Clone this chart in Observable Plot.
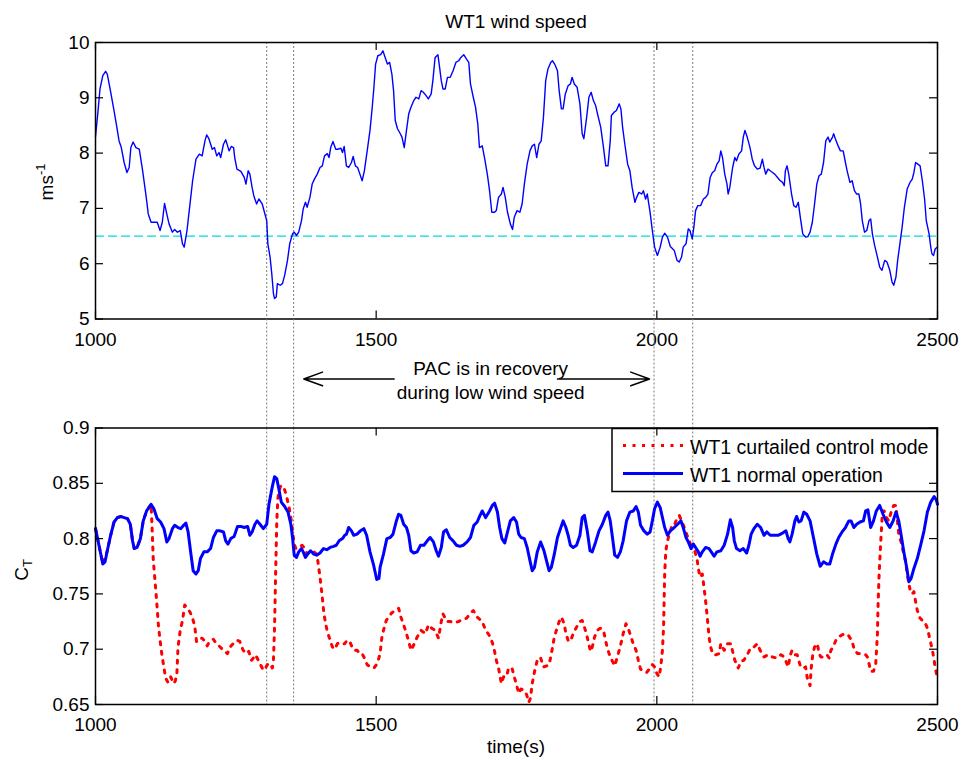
<!DOCTYPE html>
<html>
<head>
<meta charset="utf-8">
<script src="https://cdn.jsdelivr.net/npm/d3@7"></script>
<script src="https://cdn.jsdelivr.net/npm/@observablehq/plot@0.6"></script>
<style>
  body { margin: 0; background: #fff; }
  #fig { position: relative; width: 962px; height: 760px; overflow: hidden;
         font-family: "Liberation Sans", Arial, Helvetica, sans-serif; color: #000; }
  #fig > svg { position: absolute; left: 0; top: 0; }
  .lbl { position: absolute; font-size: 19px; white-space: nowrap; line-height: 1; }
  .lbl sup, .lbl sub { font-size: 13px; }
</style>
</head>
<body>
<div id="fig"></div>
<script>
// ---------------- data ----------------
const timeTicks = [1000, 1500, 2000, 2500];
const speedTicks = [5, 6, 7, 8, 9, 10];
const ctTicks = [0.65, 0.7, 0.75, 0.8, 0.85, 0.9];
const windThreshold = 6.5;                       // rated low-wind limit (m/s)
const recoveryBounds = [1305, 1353, 1995, 2064]; // PAC recovery window edges (s)
const seriesNames = ["WT1 curtailed control mode", "WT1 normal operation"];

// WT1 wind speed (s, m/s)
const windTime = [
  1000,1004,1008,1013,1018,1021,1026,1033,1038,1042,1046,1051,1056,1060,1063,1067,1072,1078,1084,1090,
  1094,1099,1104,1110,1115,1119,1123,1127,1131,1137,1141,1146,1151,1155,1158,1163,1167,1173,1179,1185,
  1190,1195,1198,1202,1208,1212,1216,1220,1223,1228,1232,1238,1242,1246,1248,1252,1259,1265,1268,1272,
  1275,1279,1282,1287,1291,1297,1301,1305,1307,1311,1314,1317,1319,1322,1324,1329,1333,1337,1342,1346,
  1351,1354,1358,1362,1367,1370,1374,1377,1382,1386,1390,1395,1400,1404,1408,1413,1416,1419,1423,1428,
  1432,1437,1440,1443,1447,1451,1456,1459,1463,1467,1471,1475,1479,1484,1489,1493,1496,1499,1503,1508,
  1512,1516,1520,1524,1528,1531,1534,1538,1543,1546,1550,1554,1558,1562,1567,1571,1576,1580,1584,1589,
  1593,1598,1601,1605,1610,1613,1616,1619,1623,1627,1632,1637,1642,1647,1651,1656,1661,1665,1668,1673,
  1677,1681,1684,1689,1693,1698,1702,1706,1711,1714,1718,1723,1726,1730,1734,1739,1743,1746,1751,1756,
  1760,1764,1769,1774,1778,1782,1786,1790,1794,1798,1802,1806,1811,1814,1818,1823,1826,1830,1833,1837,
  1842,1846,1849,1853,1858,1863,1867,1870,1875,1879,1883,1887,1891,1895,1900,1905,1909,1913,1917,1919,
  1924,1928,1933,1936,1939,1943,1948,1952,1956,1961,1964,1968,1973,1976,1980,1983,1988,1992,1996,2001,
  2006,2010,2014,2019,2024,
  2028,2031,2036,2040,2044,2047,2052,2056,2059,2063,2066,2069,2073,2078,2083,2087,2091,2095,2099,2103,
  2107,2111,2114,2117,2121,2125,2127,2130,2135,2139,2142,2146,2151,2154,2157,2161,2166,2170,2174,2179,
  2184,2188,2191,2194,2198,2202,2206,2210,2215,2219,2224,2227,2229,2232,2235,2240,2244,2248,2252,2256,
  2260,2265,2269,2273,2277,2281,2285,2289,2293,2297,2301,2305,2308,2313,2315,2318,2323,2327,2332,2336,
  2339,2344,2348,2352,2356,2360,2363,2366,2370,2374,2378,2381,2384,2388,2393,2397,2401,2406,2410,2415,
  2419,2422,2426,2429,2433,2437,2441,2446,2451,2455,2458,2461,2465,2469,2473,2477,2480,2485,2488,2490,
  2493,2496,2500
];
const windSpeed = [
  8.30,8.71,9.16,9.40,9.48,9.43,9.16,8.77,8.47,8.22,8.10,7.83,7.65,7.74,8.10,8.20,8.10,8.07,7.68,7.23,
  6.90,6.75,6.75,6.75,6.60,6.75,7.09,6.90,6.72,6.57,6.62,6.57,6.60,6.36,6.30,6.60,6.96,7.50,7.89,7.98,
  7.95,8.22,8.33,8.26,8.07,8.10,7.95,8.01,7.92,8.16,8.24,8.04,8.12,8.10,7.92,7.71,7.67,7.56,7.44,7.68,
  7.62,7.38,7.23,7.08,7.17,7.08,6.93,6.78,6.36,6.12,5.82,5.46,5.37,5.40,5.64,5.61,5.64,5.79,6.06,6.36,
  6.54,6.57,6.51,6.57,6.78,6.99,7.11,7.02,7.20,7.44,7.53,7.62,7.74,7.77,7.95,7.99,7.92,8.10,8.21,8.07,
  8.07,8.09,8.01,8.12,7.77,7.74,7.83,7.94,7.77,7.74,7.62,7.50,7.68,8.04,8.41,8.83,9.19,9.61,9.76,9.78,
  9.85,9.73,9.61,9.64,9.43,9.13,8.59,8.44,8.35,8.29,8.10,8.41,8.71,8.83,8.95,9.01,8.98,9.13,9.10,9.04,
  8.98,9.07,9.31,9.73,9.78,9.55,9.31,9.16,9.16,9.37,9.37,9.49,9.64,9.67,9.73,9.78,9.70,9.64,9.25,9.01,
  8.83,8.53,8.10,8.13,7.92,7.62,7.32,6.93,6.93,6.96,7.20,7.26,7.38,7.20,6.93,6.72,6.62,6.84,6.96,6.93,
  7.08,7.44,7.80,8.04,8.13,8.16,7.92,8.16,8.22,8.65,9.31,9.52,9.64,9.67,9.61,9.49,9.13,8.80,8.80,9.07,
  9.22,9.25,9.37,9.25,9.19,8.89,8.35,8.26,8.65,9.01,9.10,8.95,8.86,8.68,8.47,8.10,7.77,7.77,8.22,8.68,
  8.74,8.77,8.89,8.80,8.47,8.16,7.80,7.68,7.38,7.11,7.20,7.29,7.26,7.32,7.17,7.26,6.93,6.60,6.30,6.15,
  6.30,6.48,6.55,6.48,6.31,
  6.27,6.24,6.06,6.03,6.12,6.30,6.36,6.63,6.60,6.45,6.66,6.96,7.05,7.05,7.17,7.20,7.26,7.56,7.65,7.68,
  7.80,7.86,8.04,7.92,7.62,7.44,7.26,7.38,7.74,7.92,7.86,7.98,8.04,8.29,8.41,8.29,8.10,7.89,7.77,7.71,
  7.73,7.89,7.74,7.62,7.71,7.68,7.65,7.62,7.56,7.51,7.47,7.41,7.68,7.77,7.62,7.26,7.05,7.02,7.11,6.81,
  6.54,6.48,6.49,6.57,6.75,7.08,7.44,7.59,7.62,7.83,8.22,8.29,8.20,8.29,8.35,8.26,8.13,8.04,8.04,7.83,
  7.68,7.47,7.50,7.32,7.26,7.26,7.08,6.78,6.57,6.60,6.78,6.81,6.54,6.33,6.12,5.94,5.88,6.06,6.03,5.88,
  5.67,5.61,5.76,6.06,6.36,6.66,7.02,7.35,7.47,7.53,7.65,7.83,7.80,7.77,7.50,7.17,6.78,6.54,6.30,6.18,
  6.15,6.27,6.30
];

// WT1 thrust coefficient, normal operation
const normalTime = [
  1000,1007,1013,1017,1021,1027,1033,1039,1045,1051,1057,1062,1066,1069,1074,1080,1085,1091,1099,1104,
  1110,1116,1122,1127,1131,1137,1141,1147,1152,1157,1161,1165,1170,1174,1179,1183,1187,1193,1199,1205,
  1210,1216,1222,1228,1232,1236,1241,1247,1253,1259,1265,1271,1275,1279,1284,1288,1293,1299,1305,1309,
  1315,1319,1323,1327,1331,1337,1343,1348,1351,1354,1358,1362,1367,1370,1374,1378,1383,1389,1394,1400,
  1406,1412,1418,1424,1429,1434,1440,1444,1447,1451,1456,1460,1466,1472,1478,1483,1489,1495,1501,1505,
  1507,1513,1519,1525,1530,1536,1540,1544,1549,1554,1558,1562,1567,1573,1579,1585,1591,1596,1602,1607,
  1611,1616,1620,1625,1631,1637,1643,1649,1655,1662,1668,1674,1680,1685,1689,1695,1701,1707,1711,1716,
  1720,1724,1729,1733,1739,1745,1750,1754,1758,1764,1769,1774,1778,1782,1787,1793,1799,1804,1808,1812,
  1817,1823,1829,1833,1838,1842,1846,1851,1857,1863,1867,1871,1876,1881,1885,1891,1897,1903,1909,1913,
  1917,1921,1925,1930,1935,1940,1946,1952,1958,1963,1967,1971,1977,1983,1988,1992,1996,2001,2006,2010,
  2014,2019,2024,
  2031,2037,2043,2047,2052,2056,2061,2065,2069,2074,2077,2081,2087,2093,2097,2102,2107,2114,2120,2126,
  2131,2135,2138,2142,2148,2154,2160,2164,2168,2173,2179,2185,2191,2196,2202,2209,2216,2224,2230,2234,
  2237,2241,2246,2249,2253,2257,2262,2267,2273,2279,2285,2291,2297,2303,2308,2313,2319,2324,2330,2336,
  2342,2346,2351,2356,2362,2368,2372,2376,2381,2386,2391,2397,2403,2409,2415,2421,2426,2431,2435,2440,
  2445,2449,2453,2458,2464,2470,2476,2482,2488,2494,2498,2500
];
const normalCt = [
  0.809,0.792,0.777,0.779,0.789,0.803,0.815,0.819,0.820,0.819,0.818,0.813,0.798,0.791,0.792,0.800,0.816,0.825,0.831,0.827,
  0.818,0.815,0.809,0.797,0.800,0.809,0.812,0.810,0.809,0.812,0.814,0.806,0.786,0.771,0.768,0.771,0.782,0.788,0.788,0.791,
  0.801,0.807,0.807,0.806,0.798,0.795,0.800,0.802,0.811,0.811,0.810,0.811,0.803,0.806,0.813,0.816,0.813,0.809,0.813,0.831,
  0.847,0.856,0.854,0.844,0.833,0.829,0.824,0.813,0.801,0.785,0.783,0.788,0.791,0.788,0.783,0.786,0.789,0.786,0.785,0.787,
  0.791,0.790,0.792,0.793,0.794,0.798,0.800,0.803,0.804,0.810,0.807,0.803,0.804,0.807,0.809,0.803,0.788,0.777,0.763,0.764,
  0.774,0.786,0.800,0.801,0.804,0.816,0.822,0.821,0.813,0.810,0.803,0.789,0.787,0.788,0.794,0.794,0.798,0.801,0.797,0.789,
  0.784,0.792,0.806,0.808,0.801,0.798,0.794,0.793,0.794,0.797,0.801,0.812,0.815,0.821,0.825,0.819,0.824,0.830,0.832,0.824,
  0.810,0.800,0.796,0.804,0.816,0.819,0.815,0.804,0.801,0.800,0.792,0.780,0.771,0.774,0.788,0.797,0.789,0.779,0.771,0.774,
  0.785,0.801,0.810,0.816,0.810,0.803,0.794,0.792,0.794,0.803,0.819,0.821,0.807,0.789,0.788,0.797,0.807,0.813,0.821,0.824,
  0.816,0.801,0.785,0.783,0.788,0.798,0.816,0.824,0.825,0.829,0.824,0.812,0.807,0.804,0.806,0.816,0.827,0.833,0.828,0.819,
  0.810,0.803,0.807,
  0.810,0.813,0.816,0.810,0.801,0.797,0.791,0.795,0.792,0.788,0.784,0.788,0.792,0.791,0.788,0.784,0.788,0.789,0.794,0.804,
  0.817,0.810,0.798,0.791,0.789,0.791,0.787,0.794,0.804,0.809,0.813,0.810,0.803,0.806,0.803,0.803,0.803,0.805,0.807,0.800,
  0.797,0.804,0.816,0.820,0.815,0.816,0.824,0.822,0.816,0.801,0.786,0.775,0.779,0.777,0.777,0.786,0.795,0.801,0.806,0.810,
  0.816,0.816,0.810,0.813,0.815,0.816,0.825,0.826,0.810,0.816,0.825,0.830,0.822,0.815,0.810,0.816,0.824,0.816,0.804,0.788,
  0.774,0.761,0.764,0.773,0.782,0.794,0.807,0.824,0.833,0.838,0.835,0.831
];

// WT1 thrust coefficient, curtailed control mode
const curtailedTime = [
  1000,1007,1013,1021,1027,1033,1039,1045,1051,1057,1062,1066,1069,1074,1080,1085,1091,1099,
  1101,1103,1106,1109,1112,1115,1118,1122,1125,1129,1134,1139,1142,1145,1147,1151,1155,1159,1163,1168,
  1173,1177,1180,1185,1190,1195,1199,1202,1210,1214,1222,1228,1235,1240,1247,1253,1257,1263,1269,1273,
  1278,1281,1285,1288,1293,1297,1301,1306,1311,1315,1317,1319,1321,1323,1325,1329,1333,1337,1340,1345,
  1348,1351,1354,1357,1362,1368,1373,1377,1383,1389,1394,1396,1400,1404,1407,1410,1413,1418,1422,1426,
  1431,1435,1440,1444,1448,1453,1457,1461,1466,1471,1475,1479,1484,1490,1496,1502,
  1507,1510,1513,1518,1522,1528,1534,1540,1544,1549,1554,1558,1562,1567,1573,1580,1588,1593,1599,1605,
  1611,1616,1619,1626,1632,1639,1647,1653,1661,1667,1673,1680,1689,1695,1701,1707,1711,1714,1718,1723,
  1727,1732,1736,1742,1746,1750,1754,1758,1763,1768,1772,1775,1778,1781,1784,1788,1793,1798,1804,1808,
  1811,1814,1817,1821,1826,1830,1835,1838,1842,1846,1851,1857,1863,1867,1871,1875,1879,1882,1885,1889,
  1894,1899,1905,1909,1913,1917,1921,1925,1929,1933,1937,1940,1945,1949,1954,1958,1963,1967,1971,1976,
  1982,1988,1992,1996,2000,2004,2007,2010,2012,2013,2014,2016,2019,2024,
  2026,2030,2034,2040,2044,2049,2053,2058,2062,2065,2072,2075,2078,2081,2084,2087,2090,2093,2096,2099,
  2105,2111,2114,2120,2126,2132,2135,2139,2145,2150,2155,2161,2167,2173,2179,2184,2191,2198,2206,2214,
  2221,2227,2230,2234,2238,2241,2246,2250,2256,2262,2265,2268,2273,2275,2278,2281,2286,2289,2292,2297,
  2303,2307,2310,2314,2319,2324,2330,2336,2342,2348,2352,2358,2363,2368,2372,2375,2378,2381,2386,2390,
  2393,2394,2396,2399,2402,2405,2409,2413,2418,2422,2426,2428,2431,2435,2440,2443,2446,2449,2452,2455,
  2458,2461,2464,2469,2473,2477,2482,2486,2491,2494,2496,2500
];
const curtailedCt = [
  0.809,0.792,0.777,0.789,0.803,0.815,0.819,0.820,0.819,0.818,0.813,0.798,0.791,0.792,0.800,0.816,0.825,0.831,
  0.807,0.780,0.762,0.743,0.722,0.708,0.696,0.683,0.674,0.670,0.675,0.669,0.671,0.678,0.702,0.717,0.726,0.740,0.737,0.734,
  0.728,0.720,0.707,0.710,0.710,0.707,0.703,0.706,0.709,0.706,0.702,0.699,0.696,0.702,0.706,0.708,0.707,0.699,0.696,0.698,
  0.690,0.692,0.695,0.692,0.687,0.683,0.681,0.686,0.687,0.683,0.690,0.720,0.771,0.816,0.837,0.847,0.848,0.844,0.839,0.828,
  0.819,0.807,0.795,0.791,0.792,0.794,0.791,0.786,0.788,0.788,0.786,0.780,0.765,0.747,0.732,0.723,0.716,0.708,0.702,0.700,
  0.705,0.706,0.705,0.705,0.708,0.707,0.702,0.699,0.699,0.696,0.696,0.692,0.686,0.684,0.683,0.687,
  0.696,0.710,0.717,0.726,0.729,0.733,0.735,0.737,0.729,0.722,0.714,0.707,0.699,0.704,0.711,0.717,0.714,0.722,0.719,0.717,
  0.710,0.725,0.732,0.725,0.725,0.724,0.725,0.727,0.728,0.732,0.735,0.729,0.725,0.717,0.713,0.706,0.698,0.690,0.683,0.669,
  0.675,0.675,0.683,0.683,0.675,0.668,0.660,0.664,0.663,0.659,0.652,0.656,0.669,0.677,0.684,0.692,0.692,0.684,0.685,0.686,
  0.693,0.701,0.710,0.717,0.725,0.729,0.723,0.714,0.708,0.707,0.714,0.720,0.725,0.726,0.720,0.713,0.704,0.698,0.702,0.711,
  0.717,0.719,0.717,0.707,0.699,0.693,0.689,0.685,0.692,0.699,0.707,0.714,0.723,0.719,0.711,0.705,0.699,0.690,0.682,0.680,
  0.679,0.683,0.686,0.684,0.678,0.675,0.684,0.699,0.720,0.744,0.768,0.789,0.798,0.807,
  0.810,0.810,0.816,0.821,0.816,0.810,0.804,0.798,0.791,0.795,0.780,0.770,0.765,0.768,0.756,0.743,0.728,0.711,0.702,0.696,
  0.695,0.696,0.705,0.699,0.705,0.705,0.698,0.690,0.683,0.689,0.690,0.695,0.701,0.702,0.705,0.699,0.693,0.695,0.693,0.692,
  0.695,0.693,0.689,0.684,0.695,0.699,0.695,0.695,0.684,0.683,0.684,0.674,0.667,0.683,0.696,0.702,0.705,0.696,0.693,0.693,
  0.695,0.692,0.699,0.702,0.708,0.711,0.713,0.714,0.712,0.707,0.699,0.696,0.696,0.695,0.695,0.693,0.687,0.680,0.680,0.687,
  0.714,0.738,0.768,0.798,0.825,0.825,0.819,0.816,0.825,0.830,0.830,0.819,0.804,0.797,0.786,0.780,0.768,0.759,0.752,0.750,
  0.752,0.743,0.735,0.728,0.726,0.725,0.719,0.710,0.699,0.690,0.683,0.674
];

// ---------------- layout ----------------
const W = 962, H = 760, ML = 95, MR = 25;
const topPanel = {y0: 42, y1: 318.5};
const bottomPanel = {y0: 427.5, y1: 704};
const FONT = '"Liberation Sans", Arial, Helvetica, sans-serif';
const TICK = 8;
const frameW = W - ML - MR;

for (const [a, b, n] of [[windTime, windSpeed, "wind"], [normalTime, normalCt, "normal"], [curtailedTime, curtailedCt, "curtailed"]]) {
  if (a.length !== b.length) throw new Error(`${n}: ${a.length} times vs ${b.length} values`);
}
const rows = (t, v) => t.map((d, i) => ({t: d, v: v[i]}));

const fig = document.getElementById("fig");

function panelOptions(p) {
  return {
    width: W, height: H,
    marginLeft: ML, marginRight: MR, marginTop: p.y0, marginBottom: H - p.y1,
    style: {background: "transparent", overflow: "visible", fontFamily: FONT, fontSize: "19px", color: "#000"}
  };
}

// MATLAB-style ticks pointing into the box on all four sides
function inwardTicks(xt, yt, p) {
  const fh = p.y1 - p.y0;
  const s = {stroke: "#000", strokeWidth: 1.2};
  return [
    Plot.ruleX(xt, {...s, insetTop: fh - TICK}),
    Plot.ruleX(xt, {...s, insetBottom: fh - TICK}),
    Plot.ruleY(yt, {...s, insetRight: frameW - TICK}),
    Plot.ruleY(yt, {...s, insetLeft: frameW - TICK})
  ];
}

const recoveryRule = {stroke: "#7a7a7a", strokeWidth: 1, strokeDasharray: "2,2"};
const fmt = d => String(d);

// top panel: wind speed
const topPlot = Plot.plot({
  ...panelOptions(topPanel),
  x: {domain: [1000, 2500], ticks: timeTicks, tickFormat: fmt, tickSize: 0, tickPadding: 13, label: null},
  y: {domain: [5, 10], ticks: speedTicks, tickFormat: fmt, tickSize: 0, tickPadding: 6, label: null},
  marks: [
    Plot.ruleX(recoveryBounds, recoveryRule),
    Plot.ruleY([windThreshold], {stroke: "#00dcdc", strokeWidth: 1.2, strokeDasharray: "9,4"}),
    Plot.line(rows(windTime, windSpeed), {x: "t", y: "v", stroke: "#0000ff", strokeWidth: 1.4}),
    ...inwardTicks(timeTicks, speedTicks, topPanel),
    Plot.frame({stroke: "#000", strokeWidth: 1.5})
  ]
});

// gap between panels: recovery window annotation
const annotation = [{x1: 1532, x2: 1371, y: 0.45}, {x1: 1823, x2: 1987, y: 0.45}];
const gapPlot = Plot.plot({
  ...panelOptions({y0: topPanel.y1, y1: bottomPanel.y0}),
  x: {domain: [1000, 2500], axis: null},
  y: {domain: [0, 1], axis: null},
  marks: [
    Plot.ruleX(recoveryBounds, recoveryRule),
    Plot.arrow(annotation, {x1: "x1", x2: "x2", y1: "y", y2: "y", stroke: "#000", strokeWidth: 1.5, headLength: 20, headAngle: 40}),
    Plot.text(["PAC is in recovery\nduring low wind speed"], {x: 1704, y: 0.445, fontSize: 19, lineHeight: 1.26, fill: "#000"})
  ]
});

// bottom panel: thrust coefficient
const bottomPlot = Plot.plot({
  ...panelOptions(bottomPanel),
  x: {domain: [1000, 2500], ticks: timeTicks, tickFormat: fmt, tickSize: 0, tickPadding: 13, label: null},
  y: {domain: [0.65, 0.9], ticks: ctTicks, tickFormat: fmt, tickSize: 0, tickPadding: 6, label: null},
  marks: [
    Plot.ruleX(recoveryBounds, recoveryRule),
    Plot.line(rows(curtailedTime, curtailedCt), {x: "t", y: "v", stroke: "#ff0000", strokeWidth: 3, strokeDasharray: "3,6.5"}),
    Plot.line(rows(normalTime, normalCt), {x: "t", y: "v", stroke: "#0000ff", strokeWidth: 3}),
    ...inwardTicks(timeTicks, ctTicks, bottomPanel),
    Plot.frame({stroke: "#000", strokeWidth: 1.5})
  ]
});

fig.append(topPlot, gapPlot, bottomPlot);

// legend box in the top-right corner of the bottom panel
const legend = d3.create("svg").attr("width", W).attr("height", H)
  .style("font-family", FONT).style("font-size", "19.5px");
const lx = 612, ly = bottomPanel.y0 + 1;
legend.append("rect").attr("x", lx).attr("y", ly).attr("width", W - MR - lx).attr("height", 63)
  .attr("fill", "none").attr("stroke", "#000").attr("stroke-width", 1.5);
const legendStyles = [
  {stroke: "#ff0000", width: 3, dash: "3,6.5"},
  {stroke: "#0000ff", width: 3, dash: null}
];
seriesNames.forEach((name, i) => {
  const cy = ly + 17 + i * 28;
  legend.append("line").attr("x1", lx + 11).attr("x2", lx + 71).attr("y1", cy).attr("y2", cy)
    .attr("stroke", legendStyles[i].stroke).attr("stroke-width", legendStyles[i].width)
    .attr("stroke-dasharray", legendStyles[i].dash);
  legend.append("text").attr("x", lx + 78).attr("y", cy + 8).text(name);
});
fig.append(legend.node());

// titles and axis labels
function label(html, x, y, rotate) {
  const d = document.createElement("div");
  d.className = "lbl";
  d.innerHTML = html;
  d.style.left = x + "px";
  d.style.top = y + "px";
  d.style.transform = "translate(-50%, -50%)" + (rotate ? " rotate(-90deg)" : "");
  fig.append(d);
}
label("WT1 wind speed", 516, 21, false);
label("ms<sup>-1</sup>", 45, 182, true);
label("C<sub>T</sub>", 23, 570, true);
label("time(s)", 516, 746, false);
</script>
</body>
</html>
